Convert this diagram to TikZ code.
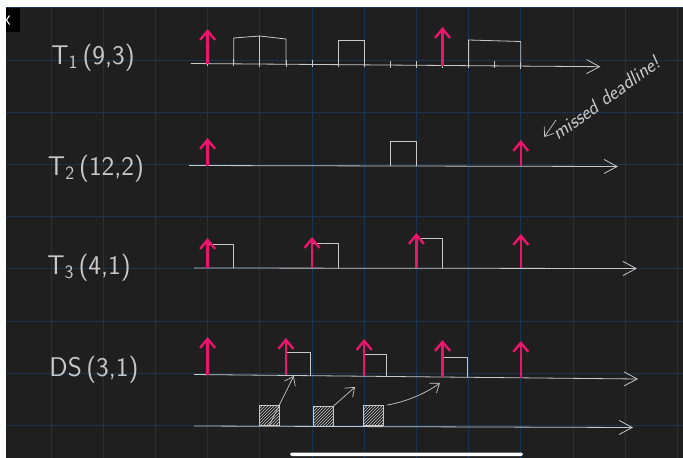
\documentclass[tikz,border=0pt]{standalone}
\usepackage{tikz}
\usetikzlibrary{arrows.meta,positioning,patterns}
\definecolor{board}{RGB}{31,31,31}
\definecolor{gridblue}{RGB}{24,52,82}
\definecolor{chalk}{RGB}{200,200,200}
\definecolor{pinkred}{RGB}{234,22,108}
\tikzset{
  timeaxis/.style={draw=chalk, line width=0.8pt,
    -{Straight Barb[length=13pt, width=14pt]}},
  release/.style={draw=pinkred, line width=2.4pt,
    -{Straight Barb[length=9pt, width=15pt]}},
  jobbox/.style={draw=chalk, line width=0.8pt, line join=round},
  tickmark/.style={draw=chalk, line width=0.7pt},
  tasklabel/.style={text=chalk, inner sep=0pt,
    font=\sffamily\fontsize{27}{30}\selectfont},
  note/.style={text=chalk, inner sep=0pt,
    font=\sffamily\itshape\fontsize{20}{22}\selectfont},
  apjob/.style={draw=chalk, line width=0.8pt, minimum size=20pt, inner sep=0pt,
    pattern=north east lines, pattern color=chalk},
  pointer/.style={draw=chalk, line width=0.7pt,
    -{Straight Barb[length=8pt, width=12pt]}}
}

\begin{document}
\begin{tikzpicture}[x=1pt, y=-1pt]
\useasboundingbox (0,0) rectangle (683,458);
% board and grid
\fill[white] (0,0) rectangle (683,458);
\fill[board] (6,7.5) rectangle (683,458);
\foreach \gx in {0,...,12}
  \draw[gridblue, line width=0.9pt] ({51+52.2*\gx},7.5) -- ({51+52.2*\gx},458);
\foreach \gy in {0,...,8}
  \draw[gridblue, line width=0.9pt] (6,{7.8+52.2*\gy}) -- (683,{7.8+52.2*\gy});
% screen bits
\fill[black] (6,7.5) rectangle (20,32);
\draw[white, line width=1pt] (9.5,15.5) -- (6.5,20) -- (9.5,24.5);
\fill[white, rounded corners=1.7pt] (290,452.5) rectangle (523,456);

% task names
\node[tasklabel] (lblone) at (93,58) {T\textsubscript{1}\,(9,3)};
\node[tasklabel] (lbltwo) at (96,169) {T\textsubscript{2}\,(12,2)};
\node[tasklabel] (lblthree) at (89,268) {T\textsubscript{3}\,(4,1)};
\node[tasklabel] (lblds) at (94,370) {DS\,(3,1)};

% T1
\begin{scope}[shift={(207.6,0)}, x=26.1pt]
\coordinate (oneS) at (-0.64,63.5);
\coordinate (oneE) at (15.05,66.7);
\foreach \t in {0,...,12}
  \draw[tickmark] (\t,{59.2+0.204*\t}) -- (\t,{66.2+0.204*\t});
\draw[jobbox] (1,63.8) -- (1,38) -- (2,36) -- (3,39) -- (3,64.2);
\draw[jobbox] (2,36) -- (2,64);
\draw[jobbox] (5,64.7) -- (5,40) -- (6,40) -- (6,64.9);
\draw[jobbox] (10,65.7) -- (10,40) -- (12,41.5) -- (12,66.1);
\draw[timeaxis] (oneS) -- (oneE);
\draw[release] (0,63.6) -- (0,29);
\draw[release] (9,65.5) -- (9,27);
\end{scope}

% T2
\begin{scope}[shift={(207.6,0)}, x=26.1pt]
\coordinate (twoS) at (-0.71,165.5);
\coordinate (twoE) at (15.72,166.5);
\coordinate (lateT) at (12.9,137);
\draw[jobbox] (7,166) -- (7,141) -- (8,141) -- (8,166);
\draw[timeaxis] (twoS) -- (twoE);
\draw[release] (0,165.5) -- (0,138);
\draw[release] (12,166.3) -- (12,140);
\end{scope}
\node[note, rotate=36, anchor=base west] (missed) at (558,141) {missed deadline!};
\draw[pointer] ([xshift=-2pt, yshift=21pt]missed.base west) -- (lateT);

% T3
\begin{scope}[shift={(207.6,0)}, x=26.1pt]
\coordinate (threeS) at (-0.52,268);
\coordinate (threeE) at (16.45,268.5);
\draw[jobbox] (0,268) -- (0,244) -- (1,244) -- (1,268);
\draw[jobbox] (4,268) -- (4,243) -- (5,243) -- (5,268);
\draw[jobbox] (8,268) -- (8,238) -- (9,238) -- (9,268.3);
\draw[timeaxis] (threeS) -- (threeE);
\draw[release] (0,268) -- (0,238);
\draw[release] (4,268) -- (4,237);
\draw[release] (8,268) -- (8,233);
\draw[release] (12,268.4) -- (12,234);
\end{scope}

% DS
\begin{scope}[shift={(207.6,0)}, x=26.1pt]
\coordinate (dsS) at (-0.52,374.5);
\coordinate (dsE) at (16.49,379);
\coordinate (apS) at (-0.52,426);
\coordinate (apE) at (16.3,427.5);
\coordinate (dsA) at (3.3,376);
\coordinate (dsB) at (5.65,387);
\coordinate (dsC) at (8.9,383);
\draw[jobbox] (3,375.4) -- (3,352.7) -- (3.95,352.7) -- (3.95,375.6);
\draw[jobbox] (6,376.2) -- (6,354) -- (6.85,354) -- (6.85,376.4);
\draw[jobbox] (9,377) -- (9,357.7) -- (9.95,357.7) -- (9.95,377.3);
\draw[timeaxis] (dsS) -- (dsE);
\draw[timeaxis] (apS) -- (apE);
\draw[release] (0,374.6) -- (0,337);
\draw[release] (3,375.4) -- (3,338);
\draw[release] (6,376.2) -- (6,339);
\draw[release] (9,377) -- (9,340);
\draw[release] (12,377.8) -- (12,341);
\end{scope}
\node[apjob] (apone) at (269,415.5) {};
\node[apjob] (aptwo) at (323,416.5) {};
\node[apjob] (apthree) at (373.5,415.5) {};
\draw[pointer] (apone.south) -- (dsA);
\draw[pointer] (aptwo.north east) -- (dsB);
\draw[pointer] ([xshift=3pt]apthree.north east) .. controls (405,402) and (425,394) .. (dsC);
\end{tikzpicture}
\end{document}
